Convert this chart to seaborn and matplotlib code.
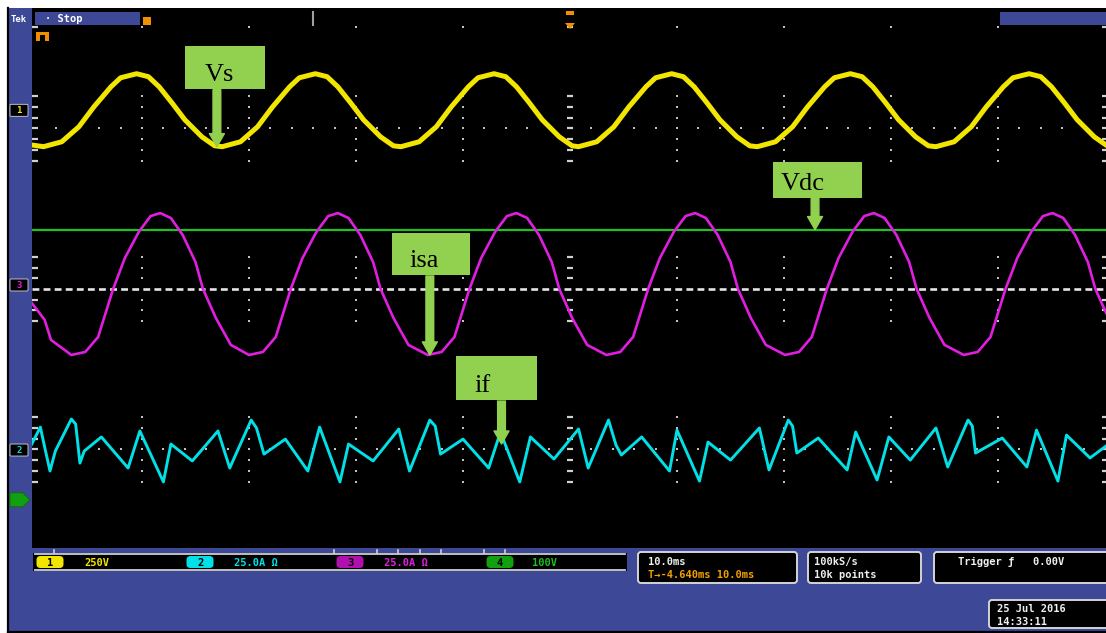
import matplotlib
matplotlib.use("Agg")
import matplotlib.pyplot as plt
from matplotlib.patches import Rectangle, FancyBboxPatch, FancyArrowPatch, Polygon
import numpy as np
import pandas as pd
import seaborn as sns

# ---------------- data read from the oscilloscope screen ----------------
# time in ms (10 ms/div, trigger point at 0 ms)
vs_t = [-50.3,
        -49.2, -47.5, -45.9, -44.5, -42.9, -42.0, -40.5, -39.4, -38.4, -37.2, -36.0, -34.4, -33.2,
        -32.5, -30.8, -29.2, -27.8, -26.2, -25.3, -23.8, -22.7, -21.7, -20.5, -19.3, -17.7, -16.5,
        -15.8, -14.1, -12.5, -11.1, -9.5, -8.6, -7.1, -6.0, -5.0, -3.8, -2.6, -1.0, 0.2,
        0.8, 2.5, 4.1, 5.5, 7.1, 8.0, 9.5, 10.6, 11.6, 12.8, 14.0, 15.6, 16.8,
        17.5, 19.2, 20.8, 22.2, 23.8, 24.7, 26.2, 27.3, 28.3, 29.5, 30.7, 32.3, 33.5,
        34.2, 35.9, 37.5, 38.9, 40.5, 41.4, 42.9, 44.0, 45.0, 46.2, 47.4, 49.0, 50.2]
vs_v = [-162,
        -170, -147, -77, 16, 110, 152, 171, 157, 110, 35, -44, -124, -166,
        -170, -147, -77, 16, 110, 152, 171, 157, 110, 35, -44, -124, -166,
        -170, -147, -77, 16, 110, 152, 171, 157, 110, 35, -44, -124, -166,
        -170, -147, -77, 16, 110, 152, 171, 157, 110, 35, -44, -124, -166,
        -170, -147, -77, 16, 110, 152, 171, 157, 110, 35, -44, -124, -166,
        -170, -147, -77, 16, 110, 152, 171, 157, 110, 35, -44, -124, -166]

isa_t = [-50.3, -49.1, -48.5,
         -46.6, -45.3, -44.1, -42.7, -41.6, -40.3, -39.2, -38.3, -37.3, -36.2, -35.0, -34.3, -33.1, -31.7,
         -30.0, -28.7, -27.5, -26.1, -25.0, -23.7, -22.6, -21.7, -20.7, -19.6, -18.4, -17.7, -16.5, -15.1,
         -13.3, -12.0, -10.8, -9.4, -8.3, -7.0, -5.9, -5.0, -4.0, -2.9, -1.7, -1.0, 0.2, 1.6,
         3.4, 4.7, 5.9, 7.3, 8.4, 9.7, 10.8, 11.7, 12.7, 13.8, 15.0, 15.7, 16.9, 18.3,
         20.1, 21.4, 22.6, 24.0, 25.1, 26.4, 27.5, 28.4, 29.4, 30.5, 31.7, 32.4, 33.6, 35.0,
         36.8, 38.1, 39.3, 40.7, 41.8, 43.1, 44.2, 45.1, 46.1, 47.2, 48.4, 49.1, 50.1]
isa_a = [-8.4, -16.3, -25.7,
         -32.7, -31.3, -24.3, -1.9, 12.6, 24.8, 32.2, 33.6, 31.3, 23.4, 10.7, -1.9, -15.4, -28.0,
         -32.7, -31.3, -24.3, -1.9, 12.6, 24.8, 32.2, 33.6, 31.3, 23.4, 10.7, -1.9, -15.4, -28.0,
         -32.7, -31.3, -24.3, -1.9, 12.6, 24.8, 32.2, 33.6, 31.3, 23.4, 10.7, -1.9, -15.4, -28.0,
         -32.7, -31.3, -24.3, -1.9, 12.6, 24.8, 32.2, 33.6, 31.3, 23.4, 10.7, -1.9, -15.4, -28.0,
         -32.7, -31.3, -24.3, -1.9, 12.6, 24.8, 32.2, 33.6, 31.3, 23.4, 10.7, -1.9, -15.4, -28.0,
         -32.7, -31.3, -24.3, -1.9, 12.6, 24.8, 32.2, 33.6, 31.3, 23.4, 10.7, -1.9, -13.0]

if_t = [-50.3, -49.5, -49.1, -48.6, -48.1, -46.6, -46.2, -45.8, -45.4, -43.8,
        -41.3, -40.2, -38.0, -37.3, -35.3, -32.9, -31.8, -29.8, -29.3, -28.6,
        -26.6, -24.5, -23.4, -21.5, -20.7, -18.4, -16.0, -15.0, -13.1, -12.6,
        -12.1, -10.0, -7.6, -6.5, -4.7, -3.7, -1.5, 0.8, 1.7, 3.6,
        4.3, 4.8, 6.7, 9.3, 10.0, 12.1, 12.9, 15.0, 17.7, 18.6,
        20.4, 20.8, 21.2, 23.2, 25.9, 26.7, 28.7, 29.8, 31.8, 34.2,
        35.3, 37.2, 37.6, 37.9, 40.4, 42.7, 43.6, 45.6, 46.4, 48.6, 50.1]
if_a = [2.8, 10.7, 1.4, -9.8, -0.5, 14.5, 12.1, -6.1, -0.5, 6.1,
        -8.4, 8.9, -14.9, 2.8, -5.1, 8.9, -8.4, 14.0, 10.3, -1.9,
        5.1, -9.8, 10.7, -14.9, 2.8, -5.1, 9.8, -9.8, 14.0, 11.2,
        -1.9, 5.1, -8.4, 8.4, -14.9, 6.1, -4.2, 9.8, -8.4, 14.0,
        2.3, -2.3, 6.1, -9.8, 9.3, -14.5, 3.7, -4.7, 10.3, -9.3,
        14.0, 11.2, -1.4, 5.6, -9.3, 8.4, -14.0, 6.1, -4.7, 10.3,
        -7.9, 14.0, 11.2, -1.4, 5.6, -7.9, 9.3, -14.5, 7.0, -3.7, 1.9]

vdc_t = [-50.3, 50.1]
vdc_v = [505.0, 505.0]

# channel settings (scale per division, position in divisions from centre)
ch_names = ["1", "2", "3", "4"]
ch_scale = [250.0, 25.0, 25.0, 100.0]
ch_pos = [3.34, -3.01, 0.075, -3.94]
ch_colors = ["#f2e600", "#00e0e6", "#e01ee0", "#1fbf1f"]
ch_badge = ["#f2e600", "#00e0e6", "#b010b0", "#10a010"]
status_text = ["250V", "25.0A Ω", "25.0A Ω", "100V"]

# annotation labels: name, time (ms), value, channel index
label_names = ["Vs", "Vdc", "isa", "if"]
label_t = [-33.0, 22.9, -13.1, -6.4]
label_val = [-170.0, 505.0, -32.7, 2.8]
label_ch = [0, 3, 2, 1]

# ---------------- layout constants ----------------
W, H = 1106, 633
MS_PX = 10.7      # px per ms
DIV_PX = 53.5     # px per vertical division
CX, CY = 570, 289  # screen centre (px)
BLUE = "#3d4996"
GREEN = "#92d050"


def fa(x0, y0, x1, y1):
    return [x0 / W, 1 - y1 / H, (x1 - x0) / W, (y1 - y0) / H]


fig = plt.figure(figsize=(W / 100, H / 100), dpi=100)
fig.patch.set_facecolor("white")

bg = fig.add_axes([0, 0, 1, 1], zorder=0)
bg.set_xlim(0, W)
bg.set_ylim(H, 0)
bg.axis("off")
bg.add_patch(Rectangle((8, 8), W - 8, H - 9, facecolor=BLUE, edgecolor="none"))
bg.plot([8, 8], [8, 632], color="black", lw=1.6)
bg.plot([8, W], [631.6, 631.6], color="black", lw=1.6)

# ---------------- scope screen ----------------
ax = fig.add_axes(fa(32, 8, W, 548), zorder=1)
ax.set_facecolor("black")
ax.set_xlim((32 - CX) / MS_PX, (W - CX) / MS_PX)
ax.set_ylim((CY - 548) / DIV_PX, (CY - 8) / DIV_PX)
for s in ax.spines.values():
    s.set_visible(False)
ax.set_xticks([])
ax.set_yticks([])

# graticule
minor_t = np.arange(-50, 50.1, 2)
for lv in (3, -3):
    ax.plot(minor_t, [lv] * len(minor_t), ls="none", marker="s", ms=1.5, mew=0,
            color="#c0c0c0", zorder=1)
vert_levels = [lv + d for lv in (3, 0, -3) for d in (-0.6, -0.4, -0.2, 0.2, 0.4, 0.6)] + [3, -3, 4.9]
for t in np.arange(-50, 51, 10):
    if t in (-50, 0, 50):
        ax.plot([t] * len(vert_levels), vert_levels, ls="none", marker="_", ms=4.5, mew=1.6,
                color="#d0d0d0", zorder=1)
    else:
        ax.plot([t] * len(vert_levels), vert_levels, ls="none", marker="s", ms=1.5, mew=0,
                color="#c0c0c0", zorder=1)
ax.axhline(0, color="#e4e4e4", lw=1.9, dashes=(2.6, 1.6), zorder=1)


def to_div(vals, ch):
    return [ch_pos[ch] + v / ch_scale[ch] for v in vals]


df_vs = pd.DataFrame({"t": vs_t, "div": to_div(vs_v, 0)})
df_if = pd.DataFrame({"t": if_t, "div": to_div(if_a, 1)})
df_isa = pd.DataFrame({"t": isa_t, "div": to_div(isa_a, 2)})
df_vdc = pd.DataFrame({"t": vdc_t, "div": to_div(vdc_v, 3)})

sns.lineplot(data=df_vdc, x="t", y="div", ax=ax, color="#22c022", lw=1.6,
             estimator=None, sort=False, legend=False, zorder=3)
sns.lineplot(data=df_vs, x="t", y="div", ax=ax, color=ch_colors[0], lw=3.6,
             estimator=None, sort=False, legend=False, zorder=4)
sns.lineplot(data=df_isa, x="t", y="div", ax=ax, color=ch_colors[2], lw=1.9,
             estimator=None, sort=False, legend=False, zorder=4)
sns.lineplot(data=df_if, x="t", y="div", ax=ax, color=ch_colors[1], lw=2.1,
             estimator=None, sort=False, legend=False, zorder=4)
ax.set_xlabel("")
ax.set_ylabel("")

# ---------------- overlay (frame decorations, labels) ----------------
ov = fig.add_axes([0, 0, 1, 1], zorder=5)
ov.set_xlim(0, W)
ov.set_ylim(H, 0)
ov.axis("off")
ov.patch.set_alpha(0)


def to_px(t, lvl):
    d = ax.transData.transform((t, lvl))
    return ov.transData.inverted().transform(d)


mono = dict(family=["DejaVu Sans Mono"], fontsize=7.5, fontweight="bold")

# top bar
ov.text(11, 19, "Tek", color="white", va="center", ha="left", **dict(mono, fontsize=6.5))
ov.add_patch(Rectangle((35, 12), 105, 13, facecolor=BLUE, edgecolor="none"))
ov.text(45, 18.5, "· Stop", color="white", va="center", ha="left", **mono)
ov.add_patch(Rectangle((143, 17), 8, 8, facecolor="#f09000", edgecolor="none"))
ov.add_patch(Rectangle((36, 32), 13, 9, facecolor="#f09000", edgecolor="none"))
ov.add_patch(Rectangle((40, 35), 5, 6, facecolor="black", edgecolor="none"))
ov.plot([313, 313], [12, 25], color="#a0a0a0", lw=1.5)
trig_x = to_px(0, 0)[0]
ov.add_patch(Rectangle((trig_x - 4, 11), 8, 4, facecolor="#f09000", edgecolor="none"))
ov.add_patch(Polygon([(trig_x - 5, 23), (trig_x + 5, 23), (trig_x, 29)], closed=True,
                     facecolor="#f09000", edgecolor="none"))
ov.add_patch(Rectangle((1000, 12), W - 1000, 13, facecolor=BLUE, edgecolor="none"))

# channel reference markers on the left strip
for i in range(4):
    y = to_px(0, ch_pos[i])[1]
    if i == 3:
        ov.add_patch(Polygon([(10, y - 7), (23, y - 7), (30, y), (23, y + 7), (10, y + 7)],
                             closed=True, facecolor="#12a012", edgecolor="#0a6a0a", lw=0.6))
    else:
        ov.add_patch(FancyBboxPatch((11, y - 5), 16, 10, boxstyle="round,pad=1",
                                    facecolor="black", edgecolor="#d8d8d8", lw=0.6))
        ov.text(19, y + 0.5, ch_names[i], color=ch_colors[i], va="center", ha="center",
                **dict(mono, fontsize=6.5))

# status bar
ov.add_patch(Rectangle((33, 553), 594, 18, facecolor="black", edgecolor="none"))
ov.plot([35, 625], [553.5, 553.5], color="#d0d0d0", lw=1.3)
ov.plot([35, 625], [570, 570], color="#d0d0d0", lw=1.3)
for x in [54, 334, 377, 398, 420, 441, 484, 505]:
    ov.plot([x, x], [549.5, 553], color="#d0d0d0", lw=1.2)
badge_x = [37, 187, 337, 487]
text_x = [84, 234, 384, 532]
for i in range(4):
    ov.add_patch(FancyBboxPatch((badge_x[i], 556.5), 26, 11, boxstyle="round,pad=0.5,rounding_size=4",
                                facecolor=ch_badge[i], edgecolor="none"))
    ov.text(badge_x[i] + 13, 562.5, ch_names[i], color="black", va="center", ha="center", **mono)
    ov.text(text_x[i], 562.5, status_text[i], color=ch_colors[i], va="center", ha="left", **mono)

# readout boxes
boxes = [(638, 552, 797, 583), (808, 552, 921, 583), (934, 552, 1112, 583), (989, 600, 1112, 628)]
for (x0, y0, x1, y1) in boxes:
    ov.add_patch(FancyBboxPatch((x0, y0), x1 - x0, y1 - y0, boxstyle="round,pad=0,rounding_size=3",
                                facecolor="black", edgecolor="#d4d4d4", lw=1.4))
ov.text(648, 562, "10.0ms", color="#f0f0f0", va="center", ha="left", **mono)
ov.text(648, 575, "T→-4.640ms 10.0ms", color="#f0a000", va="center", ha="left", **mono)
ov.text(814, 562, "100kS/s", color="#f0f0f0", va="center", ha="left", **mono)
ov.text(814, 575, "10k points", color="#f0f0f0", va="center", ha="left", **mono)
ov.text(958, 562, "Trigger ƒ   0.00V", color="#f0f0f0", va="center", ha="left", **mono)
ov.text(997, 609, "25 Jul 2016", color="#f0f0f0", va="center", ha="left", **mono)
ov.text(997, 622, "14:33:11", color="#f0f0f0", va="center", ha="left", **mono)

# green annotation boxes with arrows
box_off = {"Vs": (-32, 48, -101, -58), "Vdc": (-42, 47, -68, -32),
           "isa": (-38, 40, -122, -80), "if": (-46, 35, -88, -44)}
text_dx = {"Vs": 20, "Vdc": 8, "isa": 18, "if": 19}
for name, t, v, ch in zip(label_names, label_t, label_val, label_ch):
    tx, ty = to_px(t, ch_pos[ch] + v / ch_scale[ch])
    l, r, top, bot = box_off[name]
    ov.add_patch(Rectangle((tx + l, ty + top), r - l, bot - top, facecolor=GREEN, edgecolor="none"))
    ov.text(tx + l + text_dx[name], ty + bot - 8, name, color="black", ha="left", va="baseline",
            family=["Liberation Serif", "DejaVu Serif"], fontsize=19)
    arr = FancyArrowPatch((tx, ty + bot + 1), (tx, ty),
                          arrowstyle="simple,head_length=0.94,head_width=1.08,tail_width=0.56",
                          mutation_scale=10, color=GREEN, shrinkA=0, shrinkB=0)
    ov.add_patch(arr)

fig.savefig("out.png", dpi=100, facecolor="white")
